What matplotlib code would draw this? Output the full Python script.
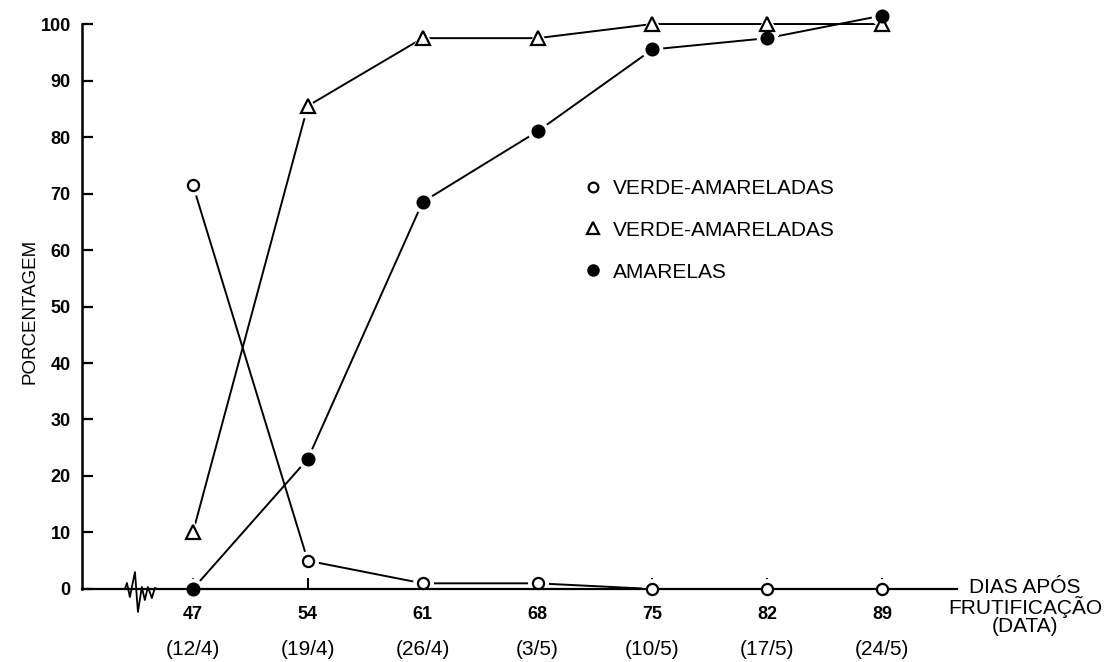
import matplotlib
matplotlib.use('Agg')
import matplotlib.pyplot as plt
from matplotlib.lines import Line2D

# dados
days = [47, 54, 61, 68, 75, 82, 89]
datas = ['(12/4)', '(19/4)', '(26/4)', '(3/5)', '(10/5)', '(17/5)', '(24/5)']
verdes = [71.5, 5, 1, 1, 0, 0, 0]
verde_amareladas = [10, 85.5, 97.5, 97.5, 100, 100, 100]
amarelas = [0, 23, 68.5, 81, 95.5, 97.5, 101.5]
yticks = [0, 10, 20, 30, 40, 50, 60, 70, 80, 90, 100]
legend_labels = ['VERDE-AMARELADAS', 'VERDE-AMARELADAS', 'AMARELAS']

# quebra do eixo x (zigue-zague)
brk_x = [42.86, 42.98, 43.16, 43.47, 43.65, 43.89, 44.07, 44.26, 44.5, 44.68, 44.86]
brk_y = [0, 1.06, -1.42, 3.0, -4.07, 0.35, -1.95, 0.35, -1.6, 0.18, 0]

plt.rcParams['font.family'] = ['Liberation Sans', 'DejaVu Sans']

fig = plt.figure(figsize=(11.12, 6.62), dpi=100)
ax = fig.add_axes([0.0737, 0.1103, 0.7869, 0.8534])

series = [(verdes, 'o', 'white', 8),
          (verde_amareladas, '^', 'white', 10),
          (amarelas, 'o', 'black', 8.5)]

for vals, mk, fc, ms in series:
    ax.plot(days, vals, '-', color='black', lw=1.4, zorder=1.5, clip_on=False)
for vals, mk, fc, ms in series:
    ax.plot(days, vals, linestyle='none', marker=mk, ms=ms + 6, mfc='white',
            mec='white', zorder=1.6, clip_on=False)
    ax.plot(days, vals, linestyle='none', marker=mk, ms=ms, mfc=fc,
            mec='black', mew=1.6, zorder=3, clip_on=False)

ax.plot(brk_x, brk_y, color='black', lw=1.3, clip_on=False, zorder=4)

ax.set_xlim(40.24, 93.56)
ax.set_ylim(0, 100)
ax.spines['top'].set_visible(False)
ax.spines['right'].set_visible(False)
ax.spines['left'].set_linewidth(1.8)
ax.spines['bottom'].set_linewidth(1.6)

ax.set_xticks(days)
ax.set_xticklabels([str(d) for d in days], fontweight='bold', fontsize=13)
ax.tick_params(axis='x', direction='in', length=8, width=1.4, pad=12)
ax.set_yticks(yticks)
ax.set_yticklabels([str(v) for v in yticks], fontweight='bold', fontsize=13)
ax.tick_params(axis='y', direction='in', length=8, width=1.6, pad=8)

sec = ax.secondary_xaxis('bottom')
sec.set_xticks(days, labels=datas)
sec.tick_params(length=0, pad=37, labelsize=15)
sec.spines['bottom'].set_visible(False)

fig.text(0.027, 0.53, 'PORCENTAGEM', rotation=90, ha='center', va='center',
         fontsize=13.5)

ax.text(1.078, 0.02, 'DIAS APÓS\nFRUTIFICAÇÃO\n(DATA)', transform=ax.transAxes,
        ha='center', va='top', fontsize=15, linespacing=0.95,
        multialignment='center', clip_on=False)

handles = [Line2D([], [], linestyle='none', marker='o', ms=7, mfc='white', mec='black', mew=1.6),
           Line2D([], [], linestyle='none', marker='^', ms=8, mfc='white', mec='black', mew=1.6),
           Line2D([], [], linestyle='none', marker='o', ms=8, mfc='black', mec='black')]
ax.legend(handles, legend_labels, loc='upper left', bbox_to_anchor=(0.577, 0.726),
          frameon=False, fontsize=15, handlelength=0.6, handletextpad=0.65,
          labelspacing=1.1, borderpad=0, borderaxespad=0)

fig.savefig('out.png', dpi=100)
